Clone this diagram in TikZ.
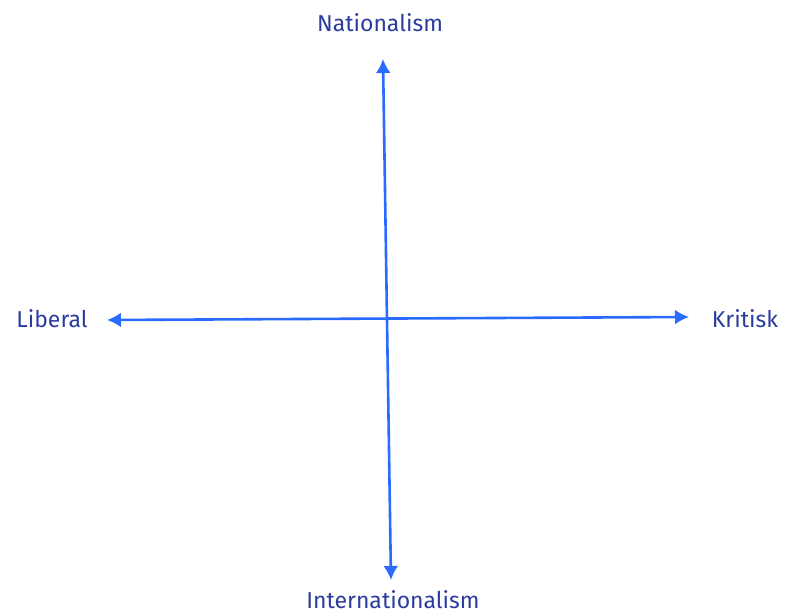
\documentclass[tikz,border=0pt]{standalone}
\usepackage{fontspec}
\setmainfont{Fira Sans}
\usetikzlibrary{arrows.meta}
\definecolor{axisblue}{HTML}{2A6BFF}
\definecolor{labelblue}{HTML}{2B3C9E}
\begin{document}
\begin{tikzpicture}[x=1pt,y=-1pt,
  lbl/.style={text=labelblue,font=\fontsize{23}{26}\selectfont,inner sep=0pt},
  axis/.style={draw=axisblue,line width=2.6pt,{Latex[length=14pt,width=15pt]}-{Latex[length=14pt,width=15pt]}}]
\useasboundingbox (0,0) rectangle (785,615);
\node[lbl] (nat) at (380,23) {Nationalism};
\node[lbl] (lib) at (52,319) {Liberal};
\node[lbl] (kri) at (745,319) {Kritisk};
\node[lbl] (int) at (393,600) {Internationalism};
\coordinate (top) at (383,59);
\coordinate (bot) at (391,580);
\coordinate (left) at (107,320);
\coordinate (right) at (689,317);
\draw[axis] (top) -- (bot);
\draw[axis] (left) -- (right);
\end{tikzpicture}
\end{document}
